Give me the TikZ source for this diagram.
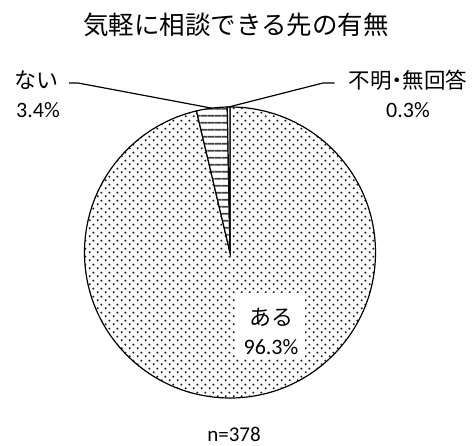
\documentclass[tikz,border=0pt]{standalone}
\usepackage{fontspec}
\setmainfont{Carlito}
\newfontfamily\jp{Noto Sans CJK JP}
\newfontfamily\jpp[RawFeature=+palt]{Noto Sans CJK JP}
\usetikzlibrary{patterns,calc}
\pgfdeclarepatternformonly{mydots}{\pgfpointorigin}{\pgfpoint{8pt}{8pt}}{\pgfpoint{8pt}{8pt}}{%
  \pgfpathcircle{\pgfpoint{2pt}{2pt}}{1.25pt}%
  \pgfpathcircle{\pgfpoint{6pt}{6pt}}{1.25pt}%
  \pgfusepath{fill}}
\pgfdeclarepatternformonly{myhlines}{\pgfpointorigin}{\pgfpoint{6.7pt}{6.7pt}}{\pgfpoint{6.7pt}{6.7pt}}{%
  \pgfsetlinewidth{2pt}%
  \pgfpathmoveto{\pgfpoint{0pt}{3.35pt}}%
  \pgfpathlineto{\pgfpoint{6.7pt}{3.35pt}}%
  \pgfusepath{stroke}}
\tikzset{
  slicedots/.style={pattern=mydots, pattern color=black!85},
  slicelines/.style={pattern=myhlines, pattern color=black!75},
  sliceedge/.style={draw=black, line width=1.2pt, line join=miter},
  lbl/.style={inner sep=0pt, anchor=center, font=\fontsize{22}{26}\selectfont},
  leader/.style={draw=black, line width=1.2pt},
}
\begin{document}
\begin{tikzpicture}[x=1pt,y=1pt]
\useasboundingbox (0,0) rectangle (472,446);
\def\cx{230}\def\cy{193.5}\def\R{145.5}
\coordinate (c) at (\cx,\cy);
% slices
\path[slicedots] (c) -- ++(90:\R) arc[start angle=90, end angle=-256.68, radius=\R] -- cycle;
\draw[sliceedge] (c) -- ++(90:\R) arc[start angle=90, end angle=-256.68, radius=\R] -- cycle;
\fill[white] (c) -- ++(103.32:\R) arc[start angle=103.32, end angle=91.08, radius=\R] -- cycle;
\path[slicelines] (c) -- ++(103.32:\R) arc[start angle=103.32, end angle=91.08, radius=\R] -- cycle;
\draw[sliceedge] (c) -- ++(103.32:\R) arc[start angle=103.32, end angle=91.08, radius=\R] -- cycle;
\draw[sliceedge, fill=white] (c) -- ++(91.08:\R) arc[start angle=91.08, end angle=90, radius=\R] -- cycle;
% leader end points
\coordinate (naiend) at ($(c)+(97.2:\R)$);
\coordinate (fumeiend) at ($(c)+(90.54:\R)$);
% title
\node[inner sep=0pt, font=\fontsize{25.5}{30}\selectfont\jp] (title) at (236,421) {気軽に相談できる先の有無};
% labels
\node[lbl, font=\fontsize{22}{26}\selectfont\jp] (nai) at (37,366) {ない};
\node[lbl] (naip) at (38,336) {3.4\%};
\node[lbl, font=\fontsize{21.5}{26}\selectfont\jpp] (fumei) at (408,366) {不明・無回答};
\node[lbl] (fumeip) at (408,336) {0.3\%};
\node[fill=white, inner sep=0pt, minimum width=69pt, minimum height=65pt] (arubox) at (270.5,120.5) {};
\node[lbl, font=\fontsize{22}{26}\selectfont\jp] (aru) at (271,129) {ある};
\node[lbl] (arup) at (271,99) {96.3\%};
\node[lbl, font=\fontsize{21}{24}\selectfont] (n) at (234,12) {n=378};
% leaders
\coordinate (naik) at (78,363);
\coordinate (fumeik) at (323,363);
\draw[leader] ([xshift=10pt]nai.east |- naik) -- (naik) -- (naiend);
\draw[leader] ([xshift=-14pt]fumei.west |- fumeik) -- (fumeik) -- (fumeiend);
\end{tikzpicture}
\end{document}
